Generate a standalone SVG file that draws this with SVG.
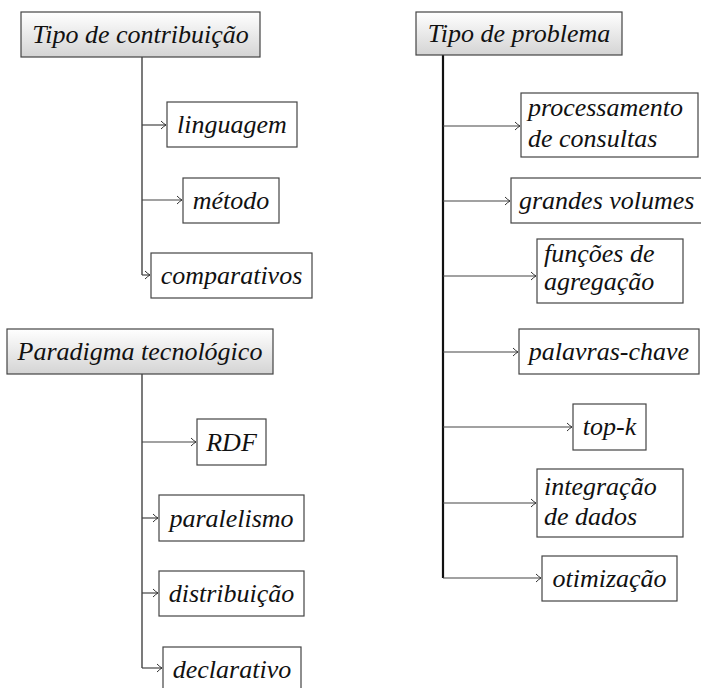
<svg xmlns="http://www.w3.org/2000/svg" width="701" height="688" viewBox="0 0 701 688">
<style>
.hd{fill:url(#hg);stroke:#444;stroke-width:1.2}
.bx{fill:#fff;stroke:#444;stroke-width:1.2}
.t{font-family:'Liberation Serif',serif;font-style:italic;font-size:26px;fill:#111}
.c{text-anchor:middle}
.ln{fill:none;stroke:#333;stroke-width:1.3}
.ar{fill:none;stroke:#444;stroke-width:1.2;marker-end:url(#ar)}
</style>
<defs>
<linearGradient id="hg" x1="0" y1="0" x2="0" y2="1">
<stop offset="0" stop-color="#ffffff"/>
<stop offset="1" stop-color="#d4d4d4"/>
</linearGradient>
<marker id="ar" markerWidth="8" markerHeight="10" refX="6" refY="5" orient="auto" markerUnits="userSpaceOnUse">
<path d="M1,1 Q4,4 6,5 Q4,6 1,9" fill="none" stroke="#333" stroke-width="1"/>
</marker>
</defs>
<g id="connectors">
<path class="ln" d="M142,57 V275"/>
<path class="ar" d="M142,125 H166"/>
<path class="ar" d="M142,200 H182"/>
<path class="ar" d="M142,275 H150"/>
<path class="ln" d="M142,374 V668"/>
<path class="ar" d="M142,442 H196"/>
<path class="ar" d="M142,518 H158"/>
<path class="ar" d="M142,593 H158"/>
<path class="ar" d="M142,668 H162"/>
<path class="ln" style="stroke-width:2.2;stroke:#111" d="M443,55 V578"/>
<path class="ar" d="M443,126 H520"/>
<path class="ar" d="M443,201 H510"/>
<path class="ar" d="M443,276 H536"/>
<path class="ar" d="M443,352 H518"/>
<path class="ar" d="M443,427 H572"/>
<path class="ar" d="M443,503 H536"/>
<path class="ar" d="M443,578 H541"/>
</g>
<g id="tipo-contribuicao"><rect class="hd" x="21" y="12" width="239" height="45"/><text class="t c" font-family="Liberation Serif" font-style="italic" font-size="26" x="140.5" y="43">Tipo de contribuição</text></g>
<g id="linguagem"><rect class="bx" x="167" y="102" width="130" height="45"/><text class="t c" font-family="Liberation Serif" font-style="italic" font-size="26" x="232" y="133">linguagem</text></g>
<g id="metodo"><rect class="bx" x="183" y="178" width="96" height="45"/><text class="t c" font-family="Liberation Serif" font-style="italic" font-size="26" x="231" y="209">método</text></g>
<g id="comparativos"><rect class="bx" x="151" y="253" width="161" height="45"/><text class="t c" font-family="Liberation Serif" font-style="italic" font-size="26" x="231.5" y="284">comparativos</text></g>
<g id="paradigma"><rect class="hd" x="7" y="329" width="266" height="45"/><text class="t c" font-family="Liberation Serif" font-style="italic" font-size="26" x="140" y="360">Paradigma tecnológico</text></g>
<g id="rdf"><rect class="bx" x="197" y="419" width="69" height="46"/><text class="t c" font-family="Liberation Serif" font-style="italic" font-size="26" x="231.5" y="451">RDF</text></g>
<g id="paralelismo"><rect class="bx" x="159" y="495" width="145" height="46"/><text class="t c" font-family="Liberation Serif" font-style="italic" font-size="26" x="231.5" y="527">paralelismo</text></g>
<g id="distribuicao"><rect class="bx" x="159" y="571" width="145" height="45"/><text class="t c" font-family="Liberation Serif" font-style="italic" font-size="26" x="231.5" y="602">distribuição</text></g>
<g id="declarativo"><rect class="bx" x="163" y="647" width="138" height="46"/><text class="t c" font-family="Liberation Serif" font-style="italic" font-size="26" x="232" y="678">declarativo</text></g>
<g id="tipo-problema"><rect class="hd" x="416" y="12" width="206" height="43"/><text class="t c" font-family="Liberation Serif" font-style="italic" font-size="26" x="519" y="42">Tipo de problema</text></g>
<g id="processamento"><rect class="bx" x="521" y="93" width="177" height="64"/><text class="t" font-family="Liberation Serif" font-style="italic" font-size="26" x="528" y="116">processamento</text><text class="t" font-family="Liberation Serif" font-style="italic" font-size="26" x="528" y="147">de consultas</text></g>
<g id="grandes-volumes"><rect class="bx" x="511" y="178" width="195" height="45"/><text class="t" font-family="Liberation Serif" font-style="italic" font-size="26" x="519" y="209">grandes volumes</text></g>
<g id="funcoes"><rect class="bx" x="537" y="239" width="146" height="64"/><text class="t" font-family="Liberation Serif" font-style="italic" font-size="26" x="544" y="262">funções de</text><text class="t" font-family="Liberation Serif" font-style="italic" font-size="26" x="544" y="290">agregação</text></g>
<g id="palavras-chave"><rect class="bx" x="519" y="329" width="180" height="45"/><text class="t c" font-family="Liberation Serif" font-style="italic" font-size="26" x="609" y="360">palavras-chave</text></g>
<g id="top-k"><rect class="bx" x="573" y="404" width="73" height="46"/><text class="t c" font-family="Liberation Serif" font-style="italic" font-size="26" x="609.5" y="435">top-k</text></g>
<g id="integracao"><rect class="bx" x="537" y="469" width="146" height="68"/><text class="t" font-family="Liberation Serif" font-style="italic" font-size="26" x="544" y="495">integração</text><text class="t" font-family="Liberation Serif" font-style="italic" font-size="26" x="544" y="525">de dados</text></g>
<g id="otimizacao"><rect class="bx" x="542" y="556" width="135" height="45"/><text class="t c" font-family="Liberation Serif" font-style="italic" font-size="26" x="609.5" y="587">otimização</text></g>
</svg>
